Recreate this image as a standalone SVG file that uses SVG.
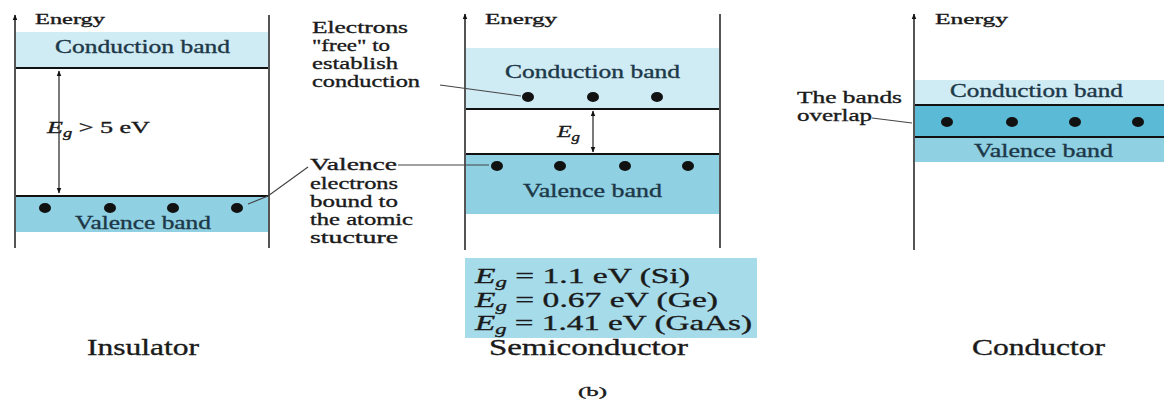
<svg xmlns="http://www.w3.org/2000/svg" width="1164" height="403" viewBox="0 0 1164 403">
<defs>
<marker id="ah" viewBox="0 0 10 10" refX="9" refY="5" markerWidth="6" markerHeight="6" orient="auto-start-reverse" markerUnits="userSpaceOnUse">
<path d="M0,1 L10,5 L0,9 z" fill="#111"/>
</marker>
<style>
text{font-family:"Liberation Serif","Times New Roman",serif;fill:#1a1a1a;stroke:#1a1a1a;stroke-width:0.35}
.band{font-size:18px;fill:#1d3848;stroke:#1d3848}
.lbl{font-size:17px}
.en{font-size:15px}
.ttl{font-size:23px}
.cb{fill:#cfebf4}
.vb{fill:#8fd0e3}
.ov{fill:#5bbad6}
.box{fill:#a6dbea}
.axis{stroke:#555;stroke-width:2;fill:none}
.edge{stroke:#111;stroke-width:2}
.lead{stroke:#444;stroke-width:1.2;fill:none}
.dim{stroke:#222;stroke-width:1.2;fill:none}
.dot{fill:#111}
</style>
</defs>
<rect width="1164" height="403" fill="#fff"/>

<g id="insulator">
<rect class="cb" x="15" y="32" width="254" height="36"/>
<rect class="vb" x="15" y="196" width="254" height="36"/>
<line class="edge" x1="15" y1="68" x2="269" y2="68"/>
<line class="edge" x1="15" y1="196" x2="269" y2="196"/>
<line class="axis" x1="15" y1="248" x2="15" y2="15" marker-end="url(#ah)"/>
<line class="axis" x1="269" y1="15" x2="269" y2="248"/>
<text class="en" x="35" y="24" textLength="70" lengthAdjust="spacingAndGlyphs">Energy</text>
<text class="band" x="55" y="53" textLength="175" lengthAdjust="spacingAndGlyphs">Conduction band</text>
<text class="band" x="75" y="229" textLength="136" lengthAdjust="spacingAndGlyphs">Valence band</text>
<ellipse class="dot" cx="45" cy="208" rx="6" ry="5"/>
<ellipse class="dot" cx="110" cy="208" rx="6" ry="5"/>
<ellipse class="dot" cx="173" cy="208" rx="6" ry="5"/>
<ellipse class="dot" cx="237" cy="208" rx="6" ry="5"/>
<text class="lbl" x="47" y="133" textLength="103" lengthAdjust="spacingAndGlyphs"><tspan font-style="italic">E</tspan><tspan font-style="italic" font-size="12" dy="4">g</tspan><tspan dy="-4"> &gt; 5 eV</tspan></text>
<text class="ttl" x="87" y="355" textLength="112" lengthAdjust="spacingAndGlyphs">Insulator</text>
</g>

<g id="semiconductor">
<rect class="cb" x="465" y="48" width="255" height="61"/>
<rect class="vb" x="465" y="154" width="255" height="60"/>
<line class="edge" x1="465" y1="109" x2="720" y2="109"/>
<line class="edge" x1="465" y1="154" x2="720" y2="154"/>
<line class="axis" x1="465" y1="250" x2="465" y2="14" marker-end="url(#ah)"/>
<line class="axis" x1="720" y1="14" x2="720" y2="248"/>
<text class="en" x="485" y="24" textLength="72" lengthAdjust="spacingAndGlyphs">Energy</text>
<text class="band" x="505" y="78" textLength="175" lengthAdjust="spacingAndGlyphs">Conduction band</text>
<text class="band" x="523" y="197" textLength="139" lengthAdjust="spacingAndGlyphs">Valence band</text>
<ellipse class="dot" cx="528" cy="97" rx="6" ry="5"/>
<ellipse class="dot" cx="593" cy="97" rx="6" ry="5"/>
<ellipse class="dot" cx="657" cy="97" rx="6" ry="5"/>
<ellipse class="dot" cx="497" cy="166" rx="6" ry="5"/>
<ellipse class="dot" cx="560" cy="166" rx="6" ry="5"/>
<ellipse class="dot" cx="625" cy="166" rx="6" ry="5"/>
<ellipse class="dot" cx="688" cy="166" rx="6" ry="5"/>
<text class="lbl" x="557" y="137" textLength="23" lengthAdjust="spacingAndGlyphs"><tspan font-style="italic">E</tspan><tspan font-style="italic" font-size="12" dy="4">g</tspan></text>
<rect class="box" x="465" y="258" width="292" height="80"/>
<text x="475" y="283" font-size="22" textLength="215" lengthAdjust="spacingAndGlyphs"><tspan font-style="italic">E</tspan><tspan font-style="italic" font-size="15" dy="4">g</tspan><tspan dy="-4"> = 1.1 eV (Si)</tspan></text>
<text x="475" y="307" font-size="22" textLength="243" lengthAdjust="spacingAndGlyphs"><tspan font-style="italic">E</tspan><tspan font-style="italic" font-size="15" dy="4">g</tspan><tspan dy="-4"> = 0.67 eV (Ge)</tspan></text>
<text x="475" y="330" font-size="22" textLength="277" lengthAdjust="spacingAndGlyphs"><tspan font-style="italic">E</tspan><tspan font-style="italic" font-size="15" dy="4">g</tspan><tspan dy="-4"> = 1.41 eV (GaAs)</tspan></text>
<text class="ttl" x="489" y="355" textLength="199" lengthAdjust="spacingAndGlyphs">Semiconductor</text>
</g>

<g id="conductor">
<rect class="cb" x="914" y="80" width="250" height="25"/>
<rect class="ov" x="914" y="105" width="250" height="32"/>
<rect class="vb" x="914" y="137" width="250" height="25"/>
<line class="edge" x1="914" y1="105" x2="1164" y2="105"/>
<line class="edge" x1="914" y1="137" x2="1164" y2="137"/>
<line class="axis" x1="914" y1="250" x2="914" y2="14" marker-end="url(#ah)"/>
<text class="en" x="935" y="24" textLength="73" lengthAdjust="spacingAndGlyphs">Energy</text>
<text class="band" x="950" y="97" textLength="173" lengthAdjust="spacingAndGlyphs">Conduction band</text>
<text class="band" x="974" y="157" textLength="139" lengthAdjust="spacingAndGlyphs">Valence band</text>
<ellipse class="dot" cx="947" cy="122" rx="6" ry="5"/>
<ellipse class="dot" cx="1012" cy="122" rx="6" ry="5"/>
<ellipse class="dot" cx="1075" cy="122" rx="6" ry="5"/>
<ellipse class="dot" cx="1138" cy="122" rx="6" ry="5"/>
<text class="ttl" x="972" y="355" textLength="133" lengthAdjust="spacingAndGlyphs">Conductor</text>
</g>

<g id="label-valence">
<text class="lbl" x="310" y="170" textLength="87" lengthAdjust="spacingAndGlyphs">Valence</text>
<text class="lbl" x="310" y="189" textLength="88" lengthAdjust="spacingAndGlyphs">electrons</text>
<text class="lbl" x="310" y="207" textLength="88" lengthAdjust="spacingAndGlyphs">bound to</text>
<text class="lbl" x="310" y="225" textLength="103" lengthAdjust="spacingAndGlyphs">the atomic</text>
<text class="lbl" x="310" y="243" textLength="88" lengthAdjust="spacingAndGlyphs">stucture</text>
</g>

<g id="label-free">
<text class="lbl" x="312" y="33" textLength="96" lengthAdjust="spacingAndGlyphs">Electrons</text>
<text class="lbl" x="312" y="51" textLength="78" lengthAdjust="spacingAndGlyphs">"free" to</text>
<text class="lbl" x="312" y="69" textLength="86" lengthAdjust="spacingAndGlyphs">establish</text>
<text class="lbl" x="312" y="87" textLength="108" lengthAdjust="spacingAndGlyphs">conduction</text>
</g>

<g id="label-overlap">
<text class="lbl" x="797" y="103" textLength="105" lengthAdjust="spacingAndGlyphs">The bands</text>
<text class="lbl" x="797" y="121" textLength="75" lengthAdjust="spacingAndGlyphs">overlap</text>
</g>

<text id="caption" x="578" y="396" font-size="13" textLength="29" lengthAdjust="spacingAndGlyphs">(b)</text>

<g id="connectors">
<line class="dim" x1="59" y1="71" x2="59" y2="193" marker-start="url(#ah)" marker-end="url(#ah)"/>
<line class="dim" x1="593" y1="111" x2="593" y2="152" marker-start="url(#ah)" marker-end="url(#ah)"/>
<polyline class="lead" points="248,204 268,196 308,167"/>
<line class="lead" x1="398" y1="165" x2="489" y2="165"/>
<line class="lead" x1="440" y1="85" x2="521" y2="96"/>
<line class="lead" x1="872" y1="118" x2="912" y2="123"/>
</g>
</svg>
